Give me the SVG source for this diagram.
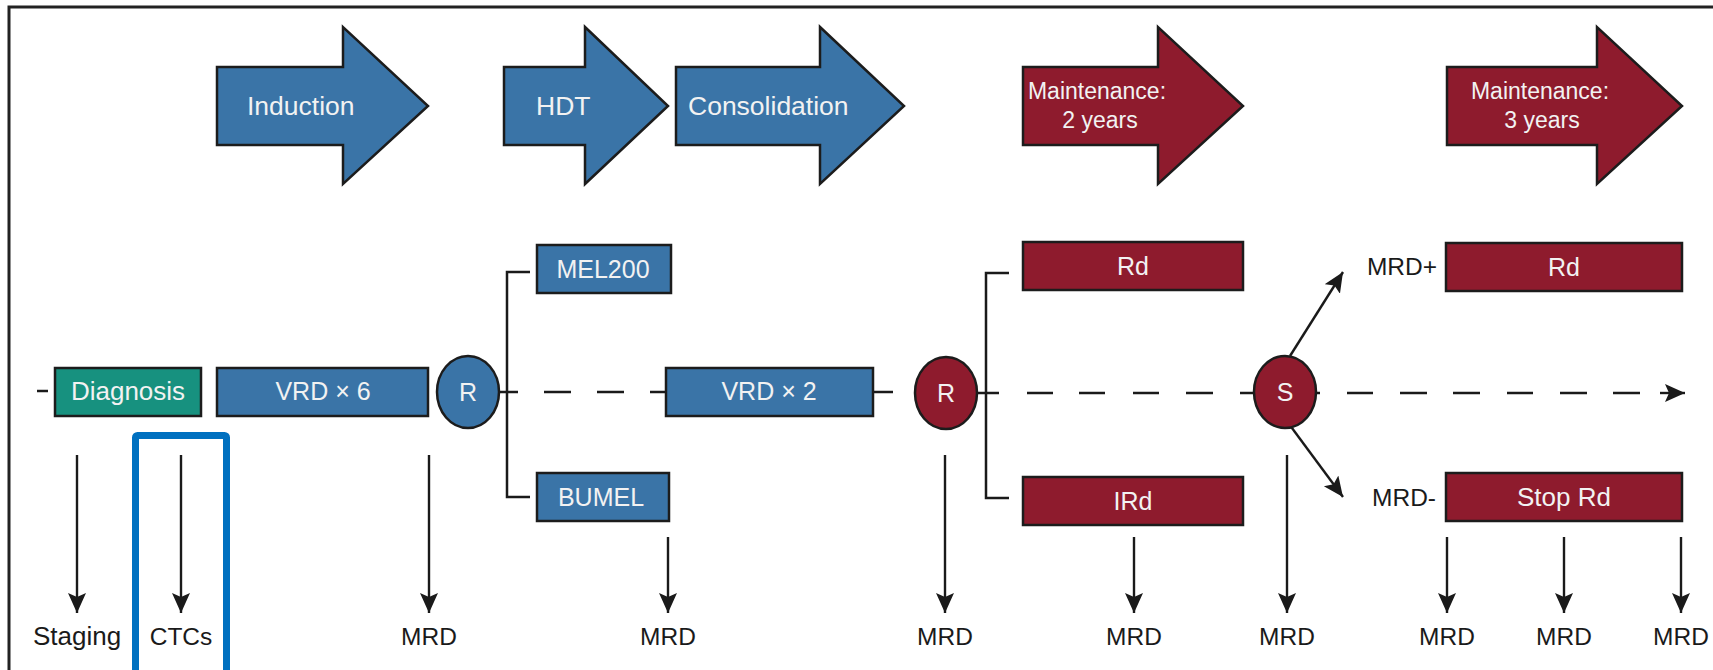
<svg xmlns="http://www.w3.org/2000/svg" width="1713" height="670" viewBox="0 0 1713 670">
<defs>
<marker id="ah" markerUnits="userSpaceOnUse" markerWidth="22" markerHeight="20" refX="20" refY="9" orient="auto" viewBox="0 0 22 20">
<path d="M0,0 L20,9 L0,18 L4,9 Z" fill="#1a1a1a"/>
</marker>
<style>
.blue{fill:#3a74a7;stroke:#1c1c1c;stroke-width:2.5}
.red{fill:#8e1b2d;stroke:#1c1c1c;stroke-width:2.5}
.teal{fill:#17917f;stroke:#1c1c1c;stroke-width:2.5}
.wt{fill:#f2f2f2;font-family:"Liberation Sans",Arial,sans-serif;font-size:25px;text-anchor:middle}
.wl{fill:#f2f2f2;font-family:"Liberation Sans",Arial,sans-serif;font-size:26.5px}
.mt{fill:#f2f2f2;font-family:"Liberation Sans",Arial,sans-serif;font-size:23px;text-anchor:middle}
.bt{fill:#1a1a1a;font-family:"Liberation Sans",Arial,sans-serif;font-size:24.5px;text-anchor:middle}
.ln{fill:none;stroke:#1a1a1a;stroke-width:2.5}
.arr{fill:none;stroke:#1a1a1a;stroke-width:2.4;marker-end:url(#ah)}
</style>
</defs>
<rect x="0" y="0" width="1713" height="670" fill="#ffffff"/>
<path d="M9,670 V7 H1713" fill="none" stroke="#222" stroke-width="3"/>

<g id="phase-induction">
<path class="blue" d="M217,67 H343 V27 L428,106 L343,184 V145 H217 Z"/>
<text class="wl" x="247" y="115">Induction</text>
</g>
<g id="phase-hdt">
<path class="blue" d="M504,67 H585 V27 L668,106 L585,184 V145 H504 Z"/>
<text class="wl" x="536" y="115">HDT</text>
</g>
<g id="phase-consolidation">
<path class="blue" d="M676,67 H820 V27 L904,106 L820,184 V145 H676 Z"/>
<text class="wl" x="688" y="115">Consolidation</text>
</g>
<g id="phase-maint2">
<path class="red" d="M1023,67 H1158 V27 L1243,106 L1158,184 V145 H1023 Z"/>
<text class="mt" x="1097" y="99">Maintenance:</text>
<text class="mt" x="1100" y="128">2 years</text>
</g>
<g id="phase-maint3">
<path class="red" d="M1447,67 H1597 V27 L1682,106 L1597,184 V145 H1447 Z"/>
<text class="mt" x="1540" y="99">Maintenance:</text>
<text class="mt" x="1542" y="128">3 years</text>
</g>

<g id="connectors">
<path class="ln" d="M37,391 H48"/>
<path class="ln" d="M499,392 H518 M544,392 H571 M597,392 H624 M650,392 H666"/>
<path class="ln" d="M530,272 H507 V497 H530"/>
<path class="ln" d="M873,392 H893"/>
<path class="ln" d="M977,393 H999 M1027,393 H1053 M1079,393 H1105 M1133,393 H1159 M1186,393 H1213 M1240,393 H1254"/>
<path class="ln" d="M1009,273 H986 V498 H1009"/>
<path class="ln" d="M1316,393 H1320 M1347,393 H1373 M1400,393 H1427 M1453,393 H1480 M1507,393 H1533 M1560,393 H1587 M1613,393 H1640"/>
<path class="arr" d="M1660,393 H1685"/>
<path class="arr" d="M1290,356 L1343,272"/>
<path class="arr" d="M1289,424 L1343,497"/>
<path class="arr" d="M77,455 V613"/>
<path class="arr" d="M181,455 V613"/>
<path class="arr" d="M429,455 V613"/>
<path class="arr" d="M668,537 V613"/>
<path class="arr" d="M945,455 V613"/>
<path class="arr" d="M1134,537 V613"/>
<path class="arr" d="M1287,455 V613"/>
<path class="arr" d="M1447,537 V613"/>
<path class="arr" d="M1564,537 V613"/>
<path class="arr" d="M1681,537 V613"/>
</g>

<g id="diagnosis">
<rect class="teal" x="55" y="368" width="146" height="48"/>
<text class="wt" x="128" y="400" style="font-size:26px">Diagnosis</text>
</g>
<g id="vrd6">
<rect class="blue" x="217" y="368" width="211" height="48"/>
<text class="wt" x="323" y="400">VRD × 6</text>
</g>
<g id="r1">
<ellipse class="blue" cx="468" cy="392" rx="31" ry="36"/>
<text class="wt" x="468" y="401">R</text>
</g>
<g id="mel200">
<rect class="blue" x="537" y="245" width="134" height="48"/>
<text class="wt" x="603" y="278">MEL200</text>
</g>
<g id="bumel">
<rect class="blue" x="537" y="473" width="132" height="48"/>
<text class="wt" x="601" y="506">BUMEL</text>
</g>
<g id="vrd2">
<rect class="blue" x="666" y="368" width="207" height="48"/>
<text class="wt" x="769" y="400">VRD × 2</text>
</g>
<g id="r2">
<ellipse class="red" cx="946" cy="393" rx="31" ry="36"/>
<text class="wt" x="946" y="402">R</text>
</g>
<g id="rd1">
<rect class="red" x="1023" y="242" width="220" height="48"/>
<text class="wt" x="1133" y="275">Rd</text>
</g>
<g id="ird">
<rect class="red" x="1023" y="477" width="220" height="48"/>
<text class="wt" x="1133" y="510">IRd</text>
</g>
<g id="s">
<ellipse class="red" cx="1285" cy="392" rx="31" ry="36"/>
<text class="wt" x="1285" y="401">S</text>
</g>
<g id="rd2">
<rect class="red" x="1446" y="243" width="236" height="48"/>
<text class="wt" x="1564" y="276">Rd</text>
</g>
<g id="stoprd">
<rect class="red" x="1446" y="473" width="236" height="48"/>
<text class="wt" x="1564" y="506" style="font-size:26px">Stop Rd</text>
</g>

<g id="labels">
<text class="bt" x="1437" y="275" style="text-anchor:end">MRD+</text>
<text class="bt" x="1436" y="506" style="text-anchor:end">MRD-</text>
<text class="bt" x="77" y="645" style="font-size:26px">Staging</text>
<text class="bt" x="181" y="645">CTCs</text>
<text class="bt" x="429" y="645">MRD</text>
<text class="bt" x="668" y="645">MRD</text>
<text class="bt" x="945" y="645">MRD</text>
<text class="bt" x="1134" y="645">MRD</text>
<text class="bt" x="1287" y="645">MRD</text>
<text class="bt" x="1447" y="645">MRD</text>
<text class="bt" x="1564" y="645">MRD</text>
<text class="bt" x="1681" y="645">MRD</text>
</g>

<g id="ctcs-highlight">
<rect x="135.5" y="435.5" width="91" height="260" rx="2" fill="none" stroke="#0070c0" stroke-width="7"/>
</g>
</svg>
